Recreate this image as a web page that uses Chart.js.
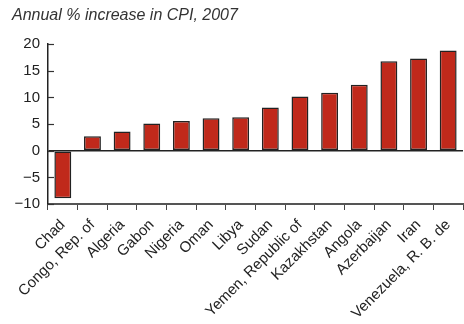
<!DOCTYPE html>
<html>
<head>
<meta charset="utf-8">
<script src="https://cdn.jsdelivr.net/npm/chart.js@4/dist/chart.umd.min.js"></script>
<style>
  html, body { margin: 0; padding: 0; background: #fff; }
  #wrap { width: 464px; height: 324px; position: relative; }
</style>
</head>
<body>
<div id="wrap"><canvas id="cpi"></canvas></div>
<script>
const countries = ['Chad', 'Congo, Rep. of', 'Algeria', 'Gabon', 'Nigeria', 'Oman', 'Libya',
    'Sudan', 'Yemen, Republic of', 'Kazakhstan', 'Angola', 'Azerbaijan', 'Iran', 'Venezuela, R. B. de']
const cpiIncrease = [-8.9, 2.7, 3.6, 5.1, 5.6, 6.1, 6.3, 8.1, 10.2, 10.9, 12.4, 16.8, 17.3, 18.8]
const yTicks = [-10, -5, 0, 5, 10, 15, 20]

const FONT = 'Liberation Sans, Arial, Helvetica, sans-serif'

// y ticks point into the plot, so they are drawn here
const innerTicks = {
    id: 'innerTicks',
    afterDraw(chart) {
        let ctx = chart.ctx
        let y = chart.scales.y
        let left = chart.chartArea.left
        ctx.save()
        ctx.strokeStyle = '#333'
        ctx.lineWidth = 1.2
        yTicks.forEach((v) => {
            let py = Math.round(y.getPixelForValue(v)) + 0.5
            ctx.beginPath()
            ctx.moveTo(left, py)
            ctx.lineTo(left + 6, py)
            ctx.stroke()
        })
        ctx.restore()
    }
}

let ctx = document.getElementById('cpi').getContext('2d')
new Chart(ctx, {
    type: 'bar',
    data: {
        labels: countries,
        datasets: [{
            data: cpiIncrease,
            backgroundColor: '#c0291b',
            borderColor: '#222',
            borderWidth: 1.5,
            borderSkipped: false,
            categoryPercentage: 1,
            barPercentage: 0.57
        }]
    },
    options: {
        responsive: true,
        maintainAspectRatio: false,
        animation: false,
        layout: { padding: { left: 12, right: 1, top: 0, bottom: 0 } },
        plugins: {
            legend: { display: false },
            tooltip: { enabled: false },
            title: {
                display: true,
                text: 'Annual % increase in CPI, 2007',
                align: 'start',
                color: '#333',
                font: { family: FONT, size: 16, style: 'italic', weight: 'normal' },
                padding: { top: 6, bottom: 19 }
            }
        },
        scales: {
            x: {
                afterFit: (axis) => {
                    axis.height = 120
                    axis.paddingLeft = 0
                    axis.paddingRight = 0
                },
                grid: {
                    drawOnChartArea: false,
                    drawTicks: true,
                    tickLength: 6,
                    color: '#444'
                },
                border: { color: '#555', width: 2 },
                ticks: {
                    color: '#222',
                    font: { family: FONT, size: 15 },
                    minRotation: 45,
                    maxRotation: 45,
                    autoSkip: false,
                    padding: 6
                }
            },
            y: {
                min: -10,
                max: 20,
                afterBuildTicks: (axis) => { axis.ticks = yTicks.map((v) => ({ value: v })) },
                afterFit: (axis) => { axis.width = 36 },
                grid: {
                    drawTicks: false,
                    color: (c) => c.tick && c.tick.value === 0 ? '#222' : 'rgba(0,0,0,0)',
                    lineWidth: 1.5
                },
                border: { color: '#222', width: 1.5 },
                ticks: {
                    color: '#222',
                    font: { family: FONT, size: 15 },
                    padding: 8,
                    callback: (v) => String(v).replace('-', '\u2212')
                }
            }
        }
    },
    plugins: [innerTicks]
})
</script>
</body>
</html>
